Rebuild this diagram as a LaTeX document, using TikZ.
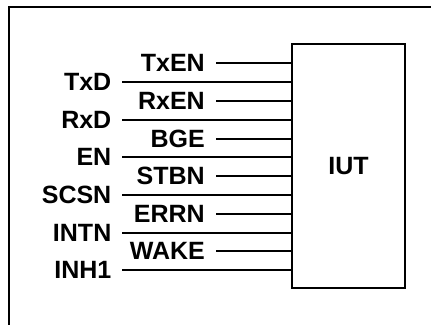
\documentclass[tikz,border=0pt]{standalone}
\usepackage{fontspec}
\setmainfont{Liberation Sans}
\begin{document}
\begin{tikzpicture}[x=1pt,y=-1pt,
  lbl/.style={font=\fontsize{25}{27}\selectfont\bfseries, inner sep=0pt, anchor=east},
  wire/.style={line width=2pt},
  frame/.style={line width=2.2pt},
  iut/.style={draw, line width=1.3pt, minimum width=113pt, minimum height=244pt, inner sep=0pt, font=\fontsize{25}{27}\selectfont\bfseries}]
\useasboundingbox (0,0) rectangle (431,324);
\draw[frame] (9,340) -- (9,7) -- (440,7);
\node[iut] (box) at (348.5,166) {IUT};
\foreach \t [count=\i from 0] in {TxEN,RxEN,BGE,STBN,ERRN,WAKE} {
  \pgfmathsetmacro{\ya}{63.3+37.6*\i}
  \node[lbl] (s\i) at (205,\ya) {\t};
  \coordinate (sa\i) at (216,\ya);
  \coordinate (sb\i) at (box.west |- sa\i);
  \draw[wire] (sa\i) -- (sb\i);
}
\foreach \t [count=\i from 0] in {TxD,RxD,EN,SCSN,INTN,INH1} {
  \pgfmathsetmacro{\yb}{63.3+18.8+37.6*\i}
  \node[lbl] (l\i) at (111.5,\yb) {\t};
  \coordinate (la\i) at (122,\yb);
  \coordinate (lb\i) at (box.west |- la\i);
  \draw[wire] (la\i) -- (lb\i);
}
\end{tikzpicture}
\end{document}
